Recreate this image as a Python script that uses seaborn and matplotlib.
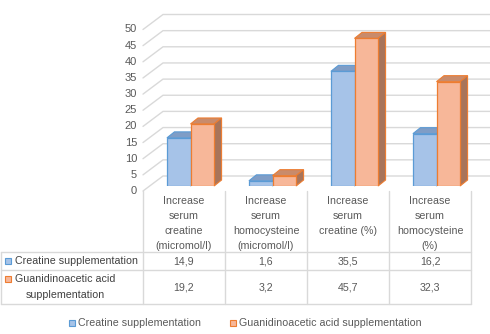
import matplotlib
matplotlib.use("Agg")
import matplotlib.pyplot as plt
from matplotlib.patches import Polygon, Rectangle
from matplotlib.transforms import IdentityTransform
import seaborn as sns
import pandas as pd

categories = [
    "Increase\nserum\ncreatine\n(micromol/l)",
    "Increase\nserum\nhomocysteine\n(micromol/l)",
    "Increase\nserum\ncreatine (%)",
    "Increase\nserum\nhomocysteine\n(%)",
]
series_names = ["Creatine supplementation", "Guanidinoacetic acid supplementation"]
series_labels = ["Creatine supplementation", "Guanidinoacetic acid\nsupplementation"]
creatine_vals = [14.9, 1.6, 35.5, 16.2]
gaa_vals = [19.2, 3.2, 45.7, 32.3]
y_ticks = list(range(0, 55, 5))

face_cols = ["#a6c3e8", "#f7b799"]
edge_cols = ["#5b9bd5", "#ed7d31"]
top_cols = ["#7f9dc6", "#c98b6b"]
side_cols = ["#a8745a", "#a8745a"]

df = pd.DataFrame({
    "category": categories * 2,
    "series": [series_names[0]] * 4 + [series_names[1]] * 4,
    "value": creatine_vals + gaa_vals,
})

sns.set_theme(style="white")
plt.rcParams["font.family"] = ["Liberation Sans", "DejaVu Sans"]

W, H = 490, 334
fig = plt.figure(figsize=(W / 100, H / 100), dpi=100)
fig.patch.set_facecolor("white")

# figure-pixel overlay (y grows downward) for the data table and legend
ov = fig.add_axes([0, 0, 1, 1], zorder=0)
ov.set_xlim(0, W)
ov.set_ylim(H, 0)
ov.axis("off")

# bar plane
col0, colw = 143, 82
px_left = col0 + 6.5
base_y = 186
ppu = 3.23
ymax = 55
ax = fig.add_axes([px_left / W, (H - base_y) / H, 4 * colw / W, ymax * ppu / H], zorder=1)
ax.patch.set_alpha(0)
sns.barplot(data=df, x="category", y="value", hue="series", hue_order=series_names,
            palette=face_cols, saturation=1, width=0.575, legend=False, ax=ax, zorder=3)
ax.set_xlim(-0.5, 3.5)
ax.set_ylim(0, ymax)
ax.axis("off")

# colour each bar and add its edges
bars = sorted(ax.patches, key=lambda p: p.get_x())
for i, p in enumerate(bars):
    s = i % 2
    p.set_edgecolor(edge_cols[s])
    p.set_linewidth(0.9)
    p.set_zorder(3 + s * 2)

# perspective offsets in pixels: front plane, back wall, bar depth
front_dx, front_dy = -6.5, -5
back_dx, back_dy = 13.5, 10
bar_dx, bar_dy = 7.5, 6

def to_px(x, y):
    return ax.transData.transform((x, y))

# back wall gridlines with their side-wall diagonals
for v in y_ticks:
    fx, fy = to_px(-0.5, v)
    rx, _ = to_px(3.5, v)
    xs = [fx + front_dx, fx + back_dx, rx + back_dx]
    ys = [fy + front_dy, fy + back_dy, fy + back_dy]
    ax.plot(xs, ys, color="#d9d9d9", lw=1.0, transform=IdentityTransform(),
            clip_on=False, zorder=0)
    ax.text(fx + front_dx - 6, fy + front_dy, str(v), transform=IdentityTransform(),
            ha="right", va="center", fontsize=8, color="#595959")

# 3D top and side faces of the columns
for i, p in enumerate(bars):
    s = i % 2
    x0, y0 = p.get_x(), p.get_y()
    x1, y1 = x0 + p.get_width(), y0 + p.get_height()
    lt = to_px(x0, y1)
    rt = to_px(x1, y1)
    rb = to_px(x1, y0)
    top = [lt, rt, (rt[0] + bar_dx, rt[1] + bar_dy), (lt[0] + bar_dx, lt[1] + bar_dy)]
    ax.add_patch(Polygon(top, closed=True, facecolor=top_cols[s], edgecolor=edge_cols[s],
                         lw=0.8, transform=IdentityTransform(), clip_on=False,
                         zorder=2 + s * 2))
    side = [rb, rt, (rt[0] + bar_dx, rt[1] + bar_dy), (rb[0] + bar_dx, rb[1] + bar_dy)]
    ax.add_patch(Polygon(side, closed=True, facecolor=side_cols[s], edgecolor=edge_cols[s],
                         lw=0.8, transform=IdentityTransform(), clip_on=False,
                         zorder=2 + s * 2))

# data table
grid_col = "#d9d9d9"
text_col = "#595959"
fs = 7.7
hdr_top, row1_top, row2_top, tab_bot = 191, 252, 270, 304
col_edges = [col0 + colw * k for k in range(5)]
for xe in col_edges:
    ov.plot([xe, xe], [hdr_top, tab_bot], color=grid_col, lw=1.0)
ov.plot([1, 1], [row1_top, tab_bot], color=grid_col, lw=1.0)
for ye in (row1_top, row2_top, tab_bot):
    ov.plot([1, col_edges[-1]], [ye, ye], color=grid_col, lw=1.0)

for k, cat in enumerate(categories):
    cx = col0 + colw * (k + 0.5)
    ov.text(cx, 196, cat, ha="center", va="top", fontsize=fs, color=text_col,
            linespacing=1.62)
    ov.text(cx, (row1_top + row2_top) / 2 + 0.5, f"{creatine_vals[k]:.1f}".replace(".", ","),
            ha="center", va="center", fontsize=fs, color=text_col)
    ov.text(cx, (row2_top + tab_bot) / 2 + 0.5, f"{gaa_vals[k]:.1f}".replace(".", ","),
            ha="center", va="center", fontsize=fs, color=text_col)

# row headers with legend keys
ov.add_patch(Rectangle((5, 257.5), 6, 6, facecolor=face_cols[0], edgecolor=edge_cols[0], lw=0.8))
ov.text(15, 261, series_labels[0], ha="left", va="center", fontsize=fs, color="#404040")
ov.add_patch(Rectangle((5, 276), 6, 6, facecolor=face_cols[1], edgecolor=edge_cols[1], lw=0.8))
ov.text(65, 287, series_labels[1], ha="center", va="center", fontsize=fs,
        color="#404040", linespacing=1.72)

# legend
ov.add_patch(Rectangle((69, 320), 6, 6, facecolor=face_cols[0], edgecolor=edge_cols[0], lw=0.8))
ov.text(78, 323.5, series_names[0], ha="left", va="center", fontsize=fs, color=text_col)
ov.add_patch(Rectangle((230, 320), 6, 6, facecolor=face_cols[1], edgecolor=edge_cols[1], lw=0.8))
ov.text(239, 323.5, series_names[1], ha="left", va="center", fontsize=fs, color=text_col)

fig.savefig("out.png", dpi=100, facecolor="white")
